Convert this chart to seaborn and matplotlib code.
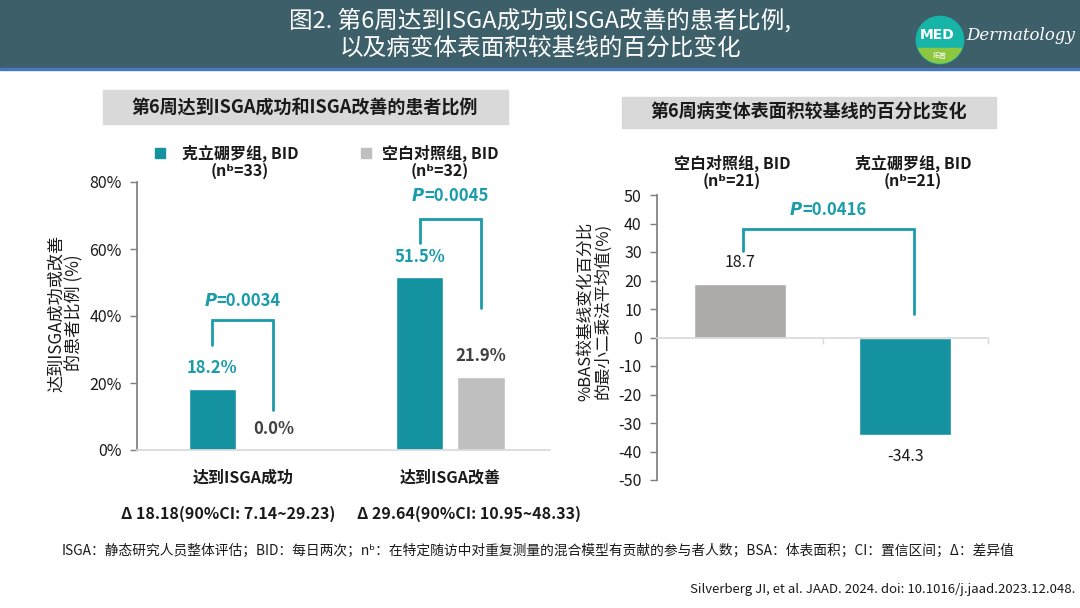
import numpy as np
import pandas as pd
import seaborn as sns
import matplotlib.pyplot as plt
from matplotlib.patches import Rectangle, Circle

# ---- data: left panel (ISGA success / improvement at week 6)
categories = ['达到ISGA成功', '达到ISGA改善']
groups = ['克立硼罗组, BID', '空白对照组, BID']
group_n = ['(nᵇ=33)', '(nᵇ=32)']
crisaborole = [18.2, 51.5]
vehicle = [0.0, 21.9]
p_left = ['0.0034', '0.0045']
delta_text = ['Δ 18.18(90%CI: 7.14~29.23)', 'Δ 29.64(90%CI: 10.95~48.33)']

# ---- data: right panel (% change in BSA at week 6)
bsa_groups = ['空白对照组, BID', '克立硼罗组, BID']
bsa_n = ['(nᵇ=21)', '(nᵇ=21)']
bsa_change = [18.7, -34.3]
p_right = '0.0416'

TEAL = '#1592a0'
TEAL_TXT = '#1a9caa'
GRAY = '#bfbfbf'
GRAY_R = '#aeaaaa'
DARK = '#404040'

sns.set_theme(style='white')
plt.rcParams['font.family'] = ['Noto Sans CJK SC', 'DejaVu Sans']
plt.rcParams['axes.unicode_minus'] = False

W, H = 1080, 608
fig = plt.figure(figsize=(W / 100, H / 100), dpi=100)


def fx(x):
    return x / W


def fy(y):
    return 1 - y / H


def ftext(x, y, s, **kw):
    fig.text(fx(x), fy(y), s, **kw)


# header band
fig.patches.append(Rectangle((0, fy(68)), 1, 68 / H, transform=fig.transFigure,
                             color='#3d5f69', zorder=-2))
fig.patches.append(Rectangle((0, fy(70)), 1, 2 / H, transform=fig.transFigure,
                             color='#4a78c0', zorder=-2))
ftext(540, 34, '图2. 第6周达到ISGA成功或ISGA改善的患者比例,\n以及病变体表面积较基线的百分比变化',
      ha='center', va='center', color='white', fontsize=17, linespacing=1.2)

# logo
lax = fig.add_axes([fx(914), fy(66), fx(52), 52 / H])
lax.set_xlim(-1.1, 1.1)
lax.set_ylim(-1.1, 1.1)
lax.set_aspect('equal')
lax.axis('off')
circ = Circle((0, 0), 1, color='#17b5a8')
lax.add_patch(circ)
green = Rectangle((-1.2, -1.2), 2.4, 0.85, color='#8dc63f')
lax.add_patch(green)
green.set_clip_path(circ)
lax.text(-0.12, 0.2, 'MED', color='white', fontsize=10, fontweight='bold', ha='center', va='center',
         family='DejaVu Sans')
lax.text(0, -0.68, '拓普', color='white', fontsize=5, ha='center', va='center')
ftext(1021, 36, 'Dermatology', ha='center', va='center', color='white', fontsize=12,
      style='italic', family='DejaVu Serif')

# panel titles
fig.patches.append(Rectangle((fx(103), fy(124)), fx(405), 34 / H, transform=fig.transFigure,
                             color='#d9d9d9', zorder=-2))
ftext(305, 107, '第6周达到ISGA成功和ISGA改善的患者比例', ha='center', va='center',
      fontsize=13, fontweight='bold', color='#1a1a1a')
fig.patches.append(Rectangle((fx(622), fy(128)), fx(374), 31 / H, transform=fig.transFigure,
                             color='#d9d9d9', zorder=-2))
ftext(809, 112, '第6周病变体表面积较基线的百分比变化', ha='center', va='center',
      fontsize=13, fontweight='bold', color='#1a1a1a')

# ---------------- left panel
left_df = pd.DataFrame({
    'category': categories * 2,
    'group': [groups[0]] * 2 + [groups[1]] * 2,
    'value': crisaborole + vehicle,
})
ax1 = fig.add_axes([fx(137), fy(450), fx(413), (450 - 182) / H])
sns.barplot(data=left_df, x='category', y='value', hue='group', hue_order=groups,
            palette=[TEAL, GRAY], width=0.59, gap=0.23, legend=False, ax=ax1,
            saturation=1, errorbar=None)
ax1.set_ylim(0, 80)
ax1.set_xlim(-0.51, 1.48)
ax1.set_yticks([0, 20, 40, 60, 80])
ax1.set_yticklabels([f'{v}%' for v in [0, 20, 40, 60, 80]], fontsize=11.5, color='#1a1a1a')
ax1.set_xticks([0, 1])
ax1.set_xticklabels(categories, fontsize=11.5, fontweight='bold', color='#1a1a1a')
ax1.tick_params(axis='x', length=0, pad=14)
ax1.tick_params(axis='y', length=5, width=1, color='#7f7f7f', left=True, pad=6)
ax1.set_xlabel('')
ax1.set_ylabel('')
sns.despine(ax=ax1)
ax1.spines['left'].set_color('#7f7f7f')
ax1.spines['bottom'].set_color('#d9d9d9')

off = 0.1475
for i in range(len(categories)):
    ax1.text(i - off, crisaborole[i] + 3.5, f'{crisaborole[i]:.1f}%', ha='center', va='bottom',
             color=TEAL_TXT, fontsize=12, fontweight='bold')
    ax1.text(i + off, vehicle[i] + 3.5, f'{vehicle[i]:.1f}%', ha='center', va='bottom',
             color=DARK, fontsize=12, fontweight='bold')


def bracket(ax, x0, x1, y0, ytop, y1, p, ytext):
    ax.plot([x0, x0, x1, x1], [y0, ytop, ytop, y1], color=TEAL_TXT, lw=2,
            clip_on=False, solid_joinstyle='miter')
    xc = (x0 + x1) / 2
    ax.annotate('P', xy=(xc, ytext), xytext=(-19, 0), textcoords='offset points',
                ha='right', va='center', color=TEAL_TXT, fontsize=12, fontweight='bold',
                style='italic', family='DejaVu Sans', annotation_clip=False)
    ax.annotate('=' + p, xy=(xc, ytext), xytext=(-19, 0), textcoords='offset points',
                ha='left', va='center', color=TEAL_TXT, fontsize=12, fontweight='bold',
                annotation_clip=False)


bracket(ax1, -off, off, 31.3, 38.8, 11.9, p_left[0], 44.5)
bracket(ax1, 1 - off, 1 + off, 61.8, 69.0, 42.4, p_left[1], 75.8)

# legend
for x_sq, x_txt, g, n in [(160, 240, groups[0], group_n[0]), (366, 440, groups[1], group_n[1])]:
    fig.patches.append(Rectangle((fx(x_sq - 5), fy(158)), fx(10), 10 / H,
                                 transform=fig.transFigure,
                                 color=TEAL if g == groups[0] else GRAY))
    ftext(x_txt, 153, g, ha='center', va='center', fontsize=11.5, fontweight='bold', color='#1a1a1a')
    ftext(x_txt, 171, n, ha='center', va='center', fontsize=11.5, fontweight='bold', color='#1a1a1a')

ftext(65, 313, '达到ISGA成功或改善\n的患者比例 (%)', ha='center', va='center', rotation=90,
      fontsize=12.3, color='#1a1a1a', linespacing=1.05)

ftext(228, 514, delta_text[0], ha='center', va='center', fontsize=11.5, fontweight='bold', color='#1a1a1a')
ftext(469, 514, delta_text[1], ha='center', va='center', fontsize=11.5, fontweight='bold', color='#1a1a1a')

# ---------------- right panel
right_df = pd.DataFrame({'group': bsa_groups, 'value': bsa_change})
ax2 = fig.add_axes([fx(657), fy(480), fx(331), (480 - 195) / H])
sns.barplot(data=right_df, x='group', y='value', hue='group', palette=[GRAY_R, TEAL],
            width=0.555, legend=False, ax=ax2, saturation=1, errorbar=None)
ax2.set_ylim(-50, 50)
ax2.set_xlim(-0.5, 1.5)
ax2.set_yticks(np.arange(-50, 51, 10))
ax2.set_yticklabels([str(v) for v in np.arange(-50, 51, 10)], fontsize=11.5, color='#1a1a1a')
ax2.set_xticks([0.5, 1.5])
ax2.set_xticklabels([])
ax2.tick_params(axis='x', length=4, width=1, color='#d9d9d9', bottom=True, direction='out')
ax2.tick_params(axis='y', length=5, width=1, color='#7f7f7f', left=True, pad=6)
ax2.set_xlabel('')
ax2.set_ylabel('')
sns.despine(ax=ax2)
ax2.spines['left'].set_color('#7f7f7f')
ax2.spines['bottom'].set_color('#d9d9d9')
ax2.spines['bottom'].set_position(('data', 0))

ax2.text(0, bsa_change[0] + 4.5, f'{bsa_change[0]:.1f}', ha='center', va='bottom',
         fontsize=11.5, color='#1a1a1a')
ax2.text(1, bsa_change[1] - 4.5, f'{bsa_change[1]:.1f}', ha='center', va='top',
         fontsize=11.5, color='#1a1a1a')
bracket(ax2, 0.02, 1.05, 30.2, 38.2, 8.4, p_right, 44.6)

for x_c, g, n in [(732, bsa_groups[0], bsa_n[0]), (913, bsa_groups[1], bsa_n[1])]:
    ftext(x_c, 163, g, ha='center', va='center', fontsize=11.5, fontweight='bold', color='#1a1a1a')
    ftext(x_c, 181, n, ha='center', va='center', fontsize=11.5, fontweight='bold', color='#1a1a1a')

ftext(594, 311, '%BAS较基线变化百分比\n的最小二乘法平均值(%)', ha='center', va='center', rotation=90,
      fontsize=12, color='#1a1a1a', linespacing=1.0)

# footer
ftext(62, 551, 'ISGA：静态研究人员整体评估；BID：每日两次；nᵇ：在特定随访中对重复测量的混合模型有贡献的参与者人数；'
      'BSA：体表面积；CI：置信区间；Δ：差异值', ha='left', va='center', fontsize=9.9, color='#1a1a1a')
ftext(1075, 590, 'Silverberg JI, et al. JAAD. 2024. doi: 10.1016/j.jaad.2023.12.048.', ha='right',
      va='center', fontsize=9.5, color='#1a1a1a')

fig.savefig('out.png', dpi=100)
